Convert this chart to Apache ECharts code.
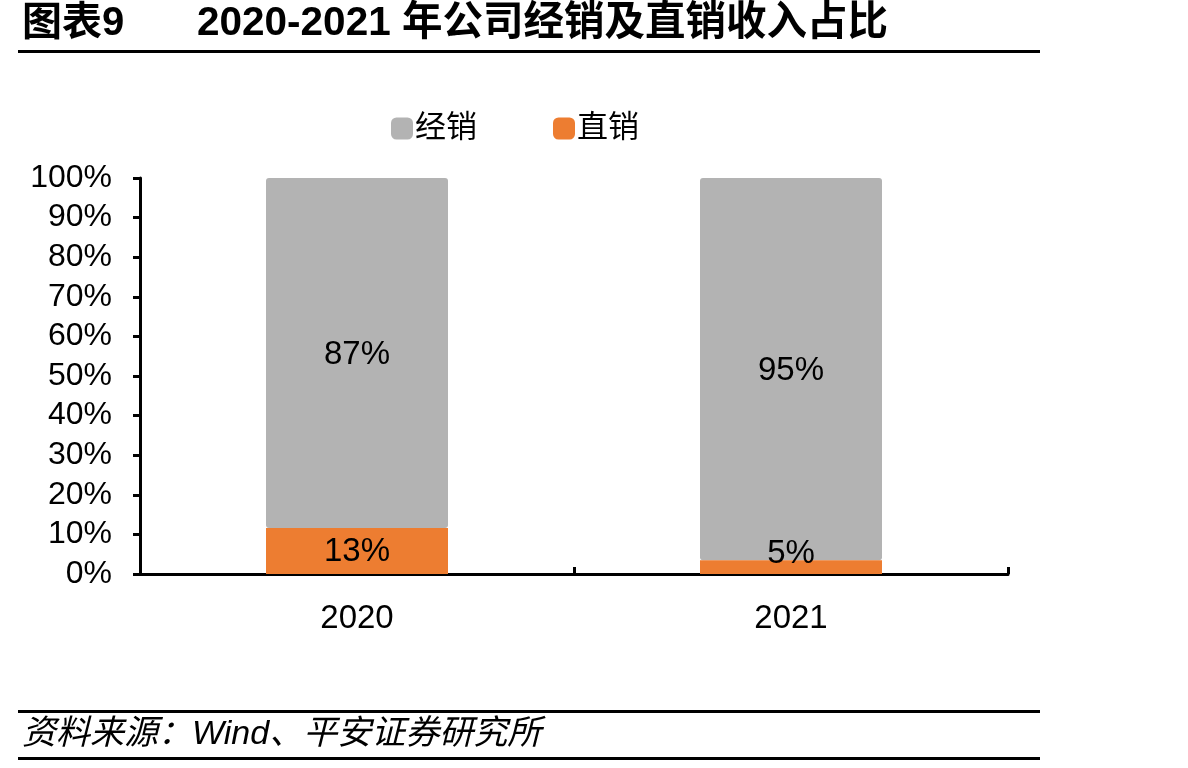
<!DOCTYPE html>
<html><head><meta charset="utf-8">
<script src="https://cdn.jsdelivr.net/npm/echarts@6/dist/echarts.min.js"></script>
<style>html,body{margin:0;padding:0;background:#fff}#c{width:1188px;height:768px}</style>
</head><body><div id="c"></div>
<script>
const categories = ['2020', '2021'];
const seriesNames = ['经销', '直销'];
const directValues = [11.6, 3.5];
const distribValues = [88.4, 96.5];
const directLabels = ['13%', '5%'];
const distribLabels = ['87%', '95%'];
const yTicks = ['0%','10%','20%','30%','40%','50%','60%','70%','80%','90%','100%'];

const FONT = '"Liberation Sans", Arial, "Noto Sans CJK SC", sans-serif';
const chart = echarts.init(document.getElementById('c'), null, {renderer: 'canvas'});
chart.setOption({
  animation: false,
  textStyle: {fontFamily: FONT},
  grid: {left: 140, right: 180, top: 178, bottom: 194},
  legend: {
    top: 108, left: 386, itemWidth: 22, itemHeight: 22, itemGap: 76,
    icon: 'roundRect',
    textStyle: {fontSize: 31, color: '#000', fontFamily: FONT, padding: [0,0,0,-3]},
    data: seriesNames
  },
  xAxis: {
    type: 'category', data: categories,
    axisLine: {lineStyle: {color: '#000', width: 3}},
    axisTick: {show: true, inside: true, length: 7, lineStyle: {color: '#000', width: 3}},
    axisLabel: {fontSize: 33, color: '#000', margin: 28, fontFamily: FONT}
  },
  yAxis: {
    type: 'value', min: 0, max: 100, interval: 10,
    axisLine: {show: true, lineStyle: {color: '#000', width: 3}},
    axisTick: {show: true, length: 7, lineStyle: {color: '#000', width: 3}},
    splitLine: {show: false},
    axisLabel: {fontSize: 32, color: '#000', margin: 28, fontFamily: FONT, padding: [5, 0, 0, 0],
      formatter: (v) => yTicks[Math.round(v / 10)]}
  },
  series: [
    {
      name: seriesNames[1], type: 'bar', stack: 's', barWidth: 182, z: 3,
      itemStyle: {color: '#ED7D31'},
      data: directValues.map((v, i) => ({
        value: v,
        label: {offset: i === 1 ? [0, -13] : [0, 1]}
      })),
      label: {show: true, position: 'inside', fontSize: 33, color: '#000', fontFamily: FONT,
        formatter: (p) => directLabels[p.dataIndex]}
    },
    {
      name: seriesNames[0], type: 'bar', stack: 's', barWidth: 182, z: 2,
      itemStyle: {color: '#B3B3B3', borderRadius: 3},
      data: distribValues,
      label: {show: true, position: 'inside', fontSize: 33, color: '#000', fontFamily: FONT, offset: [0, 2],
        formatter: (p) => distribLabels[p.dataIndex]}
    }
  ],
  graphic: [
    {type: 'text', left: 22, top: 4, style: {text: '图表9', fontSize: 40, fontWeight: 'bold', fill: '#000', fontFamily: FONT}},
    {type: 'text', left: 197, top: 4, style: {text: '2020-2021 年公司经销及直销收入占比', fontSize: 40.5, fontWeight: 'bold', fill: '#000', fontFamily: FONT}},
    {type: 'rect', shape: {x: 18, y: 50, width: 1022, height: 3}, style: {fill: '#000'}},
    {type: 'rect', shape: {x: 18, y: 710, width: 1022, height: 3}, style: {fill: '#000'}},
    {type: 'rect', shape: {x: 18, y: 757, width: 1022, height: 3}, style: {fill: '#000'}},
    {type: 'text', left: 22, top: 718, style: {text: '资料来源：Wind、平安证券研究所', fontSize: 34, fontStyle: 'italic', fill: '#000', fontFamily: FONT}}
  ]
});
</script></body></html>
